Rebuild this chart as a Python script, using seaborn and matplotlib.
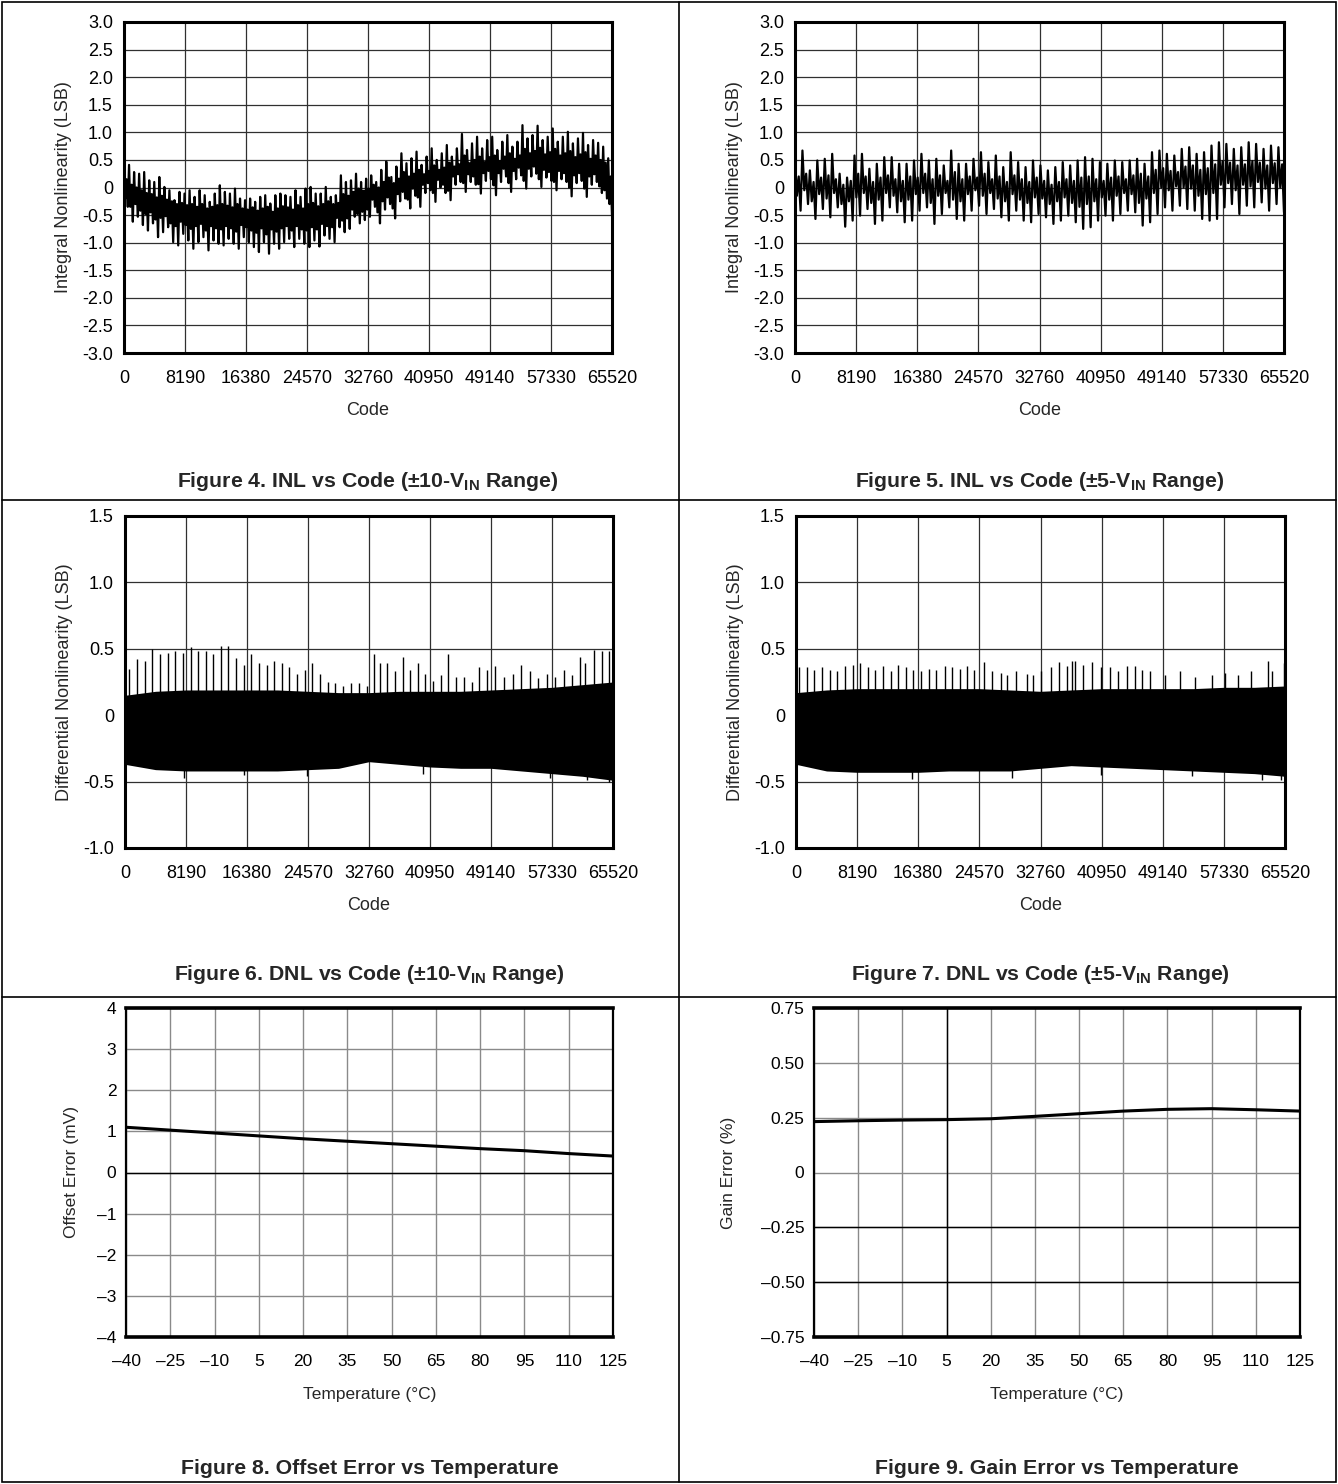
import matplotlib
matplotlib.use("Agg")
import matplotlib.pyplot as plt
from matplotlib.lines import Line2D
from matplotlib.patches import Rectangle
import seaborn as sns
import numpy as np

# ---------------- data ----------------
code_ticks = [0, 8190, 16380, 24570, 32760, 40950, 49140, 57330, 65520]
inl_yticks = [3.0, 2.5, 2.0, 1.5, 1.0, 0.5, 0, -0.5, -1.0, -1.5, -2.0, -2.5, -3.0]
inl_ylabels = ['3.0', '2.5', '2.0', '1.5', '1.0', '0.5', '0', '-0.5', '-1.0', '-1.5', '-2.0', '-2.5', '-3.0']
dnl_yticks = [1.5, 1.0, 0.5, 0, -0.5, -1.0]
dnl_ylabels = ['1.5', '1.0', '0.5', '0', '-0.5', '-1.0']

# Figure 4: INL (+-10 V range); per tooth: tip, core low, core high, valley
inl10_peaks = [0.56, 0.41, 0.28, 0.25, 0.28, 0.13, 0.10, 0.19, 0.01, -0.05,
               -0.23, -0.08, -0.11, -0.05, -0.17, -0.05, -0.14, -0.26, -0.11, 0.04,
               -0.08, -0.11, -0.02, -0.20, -0.23, -0.20, -0.26, -0.17, -0.14, -0.29,
               -0.14, -0.11, -0.14, -0.17, -0.05, -0.17, -0.02, 0.01, -0.11, -0.11,
               0.01, -0.17, -0.14, 0.22, 0.10, 0.13, 0.25, 0.10, 0.16, 0.22,
               0.10, 0.32, 0.47, 0.19, 0.38, 0.62, 0.44, 0.53, 0.65, 0.41,
               0.56, 0.71, 0.50, 0.62, 0.77, 0.56, 0.71, 0.97, 0.68, 0.80,
               0.92, 0.71, 0.86, 0.92, 0.68, 0.83, 0.95, 0.74, 0.83, 1.13,
               0.89, 0.95, 1.12, 0.86, 0.92, 1.07, 0.83, 0.92, 1.01, 0.80,
               0.89, 0.99, 0.77, 0.86, 0.81, 0.74, 0.53]
inl10_core_lo = [-0.20, -0.35, -0.30, -0.42, -0.48, -0.45, -0.58, -0.55, -0.52, -0.65,
                 -0.70, -0.62, -0.68, -0.75, -0.70, -0.66, -0.78, -0.70, -0.74, -0.76,
                 -0.70, -0.74, -0.80, -0.68, -0.72, -0.78, -0.82, -0.74, -0.85, -0.76,
                 -0.80, -0.74, -0.70, -0.78, -0.70, -0.76, -0.78, -0.72, -0.76, -0.66,
                 -0.70, -0.72, -0.55, -0.60, -0.56, -0.40, -0.48, -0.44, -0.40, -0.22,
                 -0.45, -0.25, -0.18, -0.38, -0.12, -0.08, -0.22, -0.02, -0.18, 0.05,
                 0.08, -0.10, 0.14, 0.05, -0.06, 0.20, 0.24, 0.08, 0.24, 0.20,
                 0.06, 0.26, 0.30, 0.04, 0.26, 0.34, 0.08, 0.30, 0.36, 0.12,
                 0.34, 0.38, 0.15, 0.32, 0.28, 0.10, 0.30, 0.26, 0.00, 0.22,
                 0.26, -0.02, 0.20, 0.24, 0.02, -0.05, -0.30]
inl10_core_hi = [0.15, 0.05, 0.00, -0.05, -0.10, -0.12, -0.18, -0.15, -0.22, -0.25,
                 -0.30, -0.28, -0.32, -0.30, -0.35, -0.30, -0.38, -0.35, -0.32, -0.30,
                 -0.33, -0.36, -0.30, -0.38, -0.40, -0.36, -0.42, -0.38, -0.35, -0.44,
                 -0.38, -0.34, -0.36, -0.40, -0.32, -0.38, -0.30, -0.28, -0.34, -0.30,
                 -0.25, -0.30, -0.28, -0.12, -0.15, -0.08, -0.02, -0.06, -0.02, 0.05,
                 0.00, 0.10, 0.18, 0.08, 0.16, 0.28, 0.20, 0.25, 0.32, 0.24,
                 0.30, 0.40, 0.32, 0.36, 0.45, 0.38, 0.42, 0.58, 0.44, 0.50,
                 0.56, 0.46, 0.55, 0.58, 0.48, 0.56, 0.62, 0.52, 0.58, 0.70,
                 0.62, 0.66, 0.72, 0.60, 0.64, 0.70, 0.58, 0.62, 0.66, 0.55,
                 0.60, 0.64, 0.52, 0.58, 0.50, 0.45, 0.20]
inl10_troughs = [-0.35, -0.62, -0.53, -0.68, -0.78, -0.65, -0.90, -0.81, -0.72, -0.99,
                 -1.05, -0.84, -0.96, -1.11, -0.99, -0.90, -1.14, -0.96, -1.02, -1.05,
                 -0.93, -1.02, -1.11, -0.90, -0.99, -1.08, -1.17, -0.99, -1.20, -1.02,
                 -1.11, -0.99, -0.93, -1.08, -0.93, -1.02, -1.08, -0.96, -1.07, -0.87,
                 -0.93, -0.99, -0.72, -0.81, -0.75, -0.53, -0.65, -0.59, -0.53, -0.35,
                 -0.65, -0.40, -0.30, -0.56, -0.25, -0.20, -0.38, -0.15, -0.35, -0.10,
                 -0.05, -0.26, 0.00, -0.10, -0.23, 0.05, 0.10, -0.08, 0.10, 0.05,
                 -0.11, 0.12, 0.15, -0.14, 0.10, 0.20, -0.08, 0.15, 0.22, -0.02,
                 0.20, 0.25, 0.01, 0.18, 0.12, -0.05, 0.15, 0.10, -0.16, 0.08,
                 0.12, -0.17, 0.05, 0.10, -0.10, -0.20, -0.50]

# Figure 5: INL (+-5 V range)
inl5_peaks = [0.55, 0.67, 0.31, 0.49, 0.52, 0.61, 0.25, 0.18, 0.58, 0.61,
              0.34, 0.43, 0.55, 0.55, 0.43, 0.43, 0.49, 0.61, 0.49, 0.52,
              0.40, 0.67, 0.43, 0.43, 0.52, 0.64, 0.46, 0.58, 0.37, 0.64,
              0.46, 0.37, 0.49, 0.40, 0.31, 0.37, 0.46, 0.40, 0.49, 0.55,
              0.52, 0.46, 0.43, 0.49, 0.46, 0.49, 0.52, 0.43, 0.64, 0.67,
              0.61, 0.58, 0.70, 0.73, 0.61, 0.64, 0.76, 0.82, 0.79, 0.70,
              0.73, 0.82, 0.79, 0.70, 0.76, 0.73]
inl5_core_lo = [-0.15, -0.05, -0.25, -0.12, -0.20, -0.10, -0.30, -0.25, -0.18, -0.10,
                -0.28, -0.22, -0.10, -0.15, -0.25, -0.22, -0.12, -0.10, -0.28, -0.15,
                -0.10, -0.22, -0.25, -0.12, -0.05, -0.15, -0.10, -0.20, -0.25, -0.12,
                -0.22, -0.28, -0.18, -0.20, -0.30, -0.25, -0.18, -0.28, -0.35, -0.30,
                -0.25, -0.18, -0.22, -0.15, -0.10, -0.12, -0.28, -0.20, -0.10, 0.00,
                -0.05, 0.02, 0.00, -0.02, -0.15, -0.12, -0.10, 0.05, 0.08, -0.05,
                0.05, 0.02, 0.10, -0.02, 0.08, 0.00]
inl5_core_hi = [0.20, 0.25, 0.10, 0.18, 0.22, 0.15, 0.05, 0.12, 0.25, 0.20,
                0.10, 0.18, 0.22, 0.15, 0.12, 0.20, 0.18, 0.25, 0.15, 0.22,
                0.12, 0.28, 0.15, 0.20, 0.18, 0.25, 0.15, 0.20, 0.10, 0.22,
                0.15, 0.10, 0.18, 0.12, 0.05, 0.10, 0.15, 0.12, 0.18, 0.20,
                0.15, 0.12, 0.18, 0.20, 0.15, 0.22, 0.25, 0.20, 0.32, 0.35,
                0.30, 0.28, 0.38, 0.40, 0.32, 0.35, 0.42, 0.48, 0.45, 0.40,
                0.42, 0.48, 0.45, 0.40, 0.44, 0.42]
inl5_troughs = [-0.42, -0.30, -0.57, -0.39, -0.54, -0.36, -0.71, -0.60, -0.51, -0.39,
                -0.66, -0.60, -0.36, -0.45, -0.63, -0.60, -0.42, -0.36, -0.66, -0.48,
                -0.36, -0.57, -0.60, -0.42, -0.33, -0.48, -0.39, -0.54, -0.60, -0.42,
                -0.60, -0.63, -0.48, -0.54, -0.66, -0.60, -0.51, -0.63, -0.75, -0.72,
                -0.60, -0.51, -0.60, -0.48, -0.42, -0.45, -0.69, -0.63, -0.48, -0.36,
                -0.42, -0.33, -0.39, -0.42, -0.57, -0.60, -0.57, -0.36, -0.30, -0.48,
                -0.33, -0.36, -0.27, -0.42, -0.30, -0.45]

# Figures 6/7: DNL band envelope (every 4095 codes) and isolated spikes
dnl10_upper = [0.15, 0.18, 0.19, 0.19, 0.19, 0.19, 0.18, 0.17, 0.17, 0.18, 0.18, 0.18, 0.19, 0.20, 0.21, 0.23, 0.25]
dnl10_lower = [-0.37, -0.41, -0.42, -0.42, -0.42, -0.42, -0.41, -0.40, -0.35, -0.37, -0.39, -0.40, -0.40, -0.42, -0.44, -0.46, -0.49]
dnl10_spike_codes = [573, 1604, 2636, 3610, 4641, 5730, 6761, 7793, 8824, 9798, 10830, 11861, 12893, 13867,
                     14898, 15929, 16961, 17992, 19024, 19998, 21029, 22061, 23092, 24123, 25155, 26186,
                     27218, 28249, 29280, 30312, 31400, 32432, 33463, 34265, 35240, 36271, 37302, 38276,
                     39308, 40339, 41371, 42402, 43433, 44465, 45496, 46528, 47559, 48590, 49736, 50882,
                     52028, 53232, 54320, 55466, 56612, 57758, 58904, 60050, 61025, 61769, 62915, 64061, 65036]
dnl10_spike_vals = [0.35, 0.42, 0.41, 0.50, 0.46, 0.47, 0.48, 0.47, 0.51, 0.48, 0.48, 0.46, 0.52, 0.52,
                    0.43, 0.38, 0.46, 0.39, 0.38, 0.41, 0.39, 0.36, 0.31, 0.34, 0.39, 0.31,
                    0.25, 0.24, 0.22, 0.24, 0.24, 0.22, 0.46, 0.39, 0.39, 0.33, 0.44, 0.34,
                    0.39, 0.31, 0.26, 0.30, 0.46, 0.29, 0.29, 0.25, 0.36, 0.34, 0.37, 0.29,
                    0.31, 0.38, 0.33, 0.28, 0.31, 0.29, 0.34, 0.30, 0.44, 0.39, 0.49, 0.48, 0.48]
dnl10_dip_codes = [7900, 16000, 24400, 40000, 57000, 62000, 65000]
dnl10_dip_vals = [-0.47, -0.45, -0.46, -0.44, -0.47, -0.49, -0.50]

dnl5_upper = [0.17, 0.19, 0.20, 0.20, 0.20, 0.20, 0.20, 0.19, 0.18, 0.19, 0.20, 0.20, 0.20, 0.20, 0.21, 0.21, 0.22]
dnl5_lower = [-0.37, -0.42, -0.43, -0.43, -0.43, -0.42, -0.42, -0.42, -0.40, -0.38, -0.39, -0.40, -0.41, -0.42, -0.43, -0.44, -0.46]
dnl5_spike_codes = [400, 1430, 2460, 3432, 4576, 5548, 6578, 7608, 8637, 9610, 10582, 11669, 12698, 13671,
                    14700, 15730, 16760, 17789, 18762, 19906, 20935, 21965, 22880, 23910, 25225, 26312,
                    27456, 28314, 29458, 30888, 31746, 32890, 34206, 35292, 36322, 37008, 37352, 38496,
                    39640, 40898, 42042, 43186, 44330, 45474, 46332, 47476, 49478, 51480, 53482, 55770,
                    57486, 59202, 60918, 63206, 63778, 65322]
dnl5_spike_vals = [0.36, 0.36, 0.34, 0.36, 0.34, 0.33, 0.37, 0.38, 0.39, 0.36, 0.34, 0.37, 0.33, 0.38,
                   0.36, 0.34, 0.33, 0.35, 0.34, 0.37, 0.36, 0.35, 0.37, 0.34, 0.40, 0.33,
                   0.32, 0.30, 0.33, 0.31, 0.30, 0.33, 0.36, 0.40, 0.37, 0.41, 0.41, 0.38,
                   0.40, 0.36, 0.36, 0.33, 0.37, 0.37, 0.34, 0.33, 0.30, 0.33, 0.29, 0.30,
                   0.32, 0.30, 0.33, 0.41, 0.33, 0.39]
dnl5_dip_codes = [15500, 29000, 40900, 53000, 62500, 65000]
dnl5_dip_vals = [-0.48, -0.47, -0.45, -0.46, -0.49, -0.49]

# Figures 8/9: error vs temperature
temps = [-40, -25, -10, 5, 20, 35, 50, 65, 80, 95, 110, 125]
temp_labels = ['\u201340', '\u201325', '\u201310', '5', '20', '35', '50', '65', '80', '95', '110', '125']
offset_mv = [1.10, 1.03, 0.96, 0.89, 0.82, 0.76, 0.70, 0.64, 0.58, 0.53, 0.46, 0.40]
gain_pct = [0.232, 0.236, 0.239, 0.241, 0.245, 0.256, 0.268, 0.280, 0.288, 0.291, 0.286, 0.280]
off_yticks = [4, 3, 2, 1, 0, -1, -2, -3, -4]
off_ylabels = ['4', '3', '2', '1', '0', '\u20131', '\u20132', '\u20133', '\u20134']
gain_yticks = [0.75, 0.5, 0.25, 0, -0.25, -0.5, -0.75]
gain_ylabels = ['0.75', '0.50', '0.25', '0', '\u20130.25', '\u20130.50', '\u20130.75']

captions = [r'Figure 4. INL vs Code (±10-V$_\mathregular{IN}$ Range)',
            r'Figure 5. INL vs Code (±5-V$_\mathregular{IN}$ Range)',
            r'Figure 6. DNL vs Code (±10-V$_\mathregular{IN}$ Range)',
            r'Figure 7. DNL vs Code (±5-V$_\mathregular{IN}$ Range)',
            'Figure 8. Offset Error vs Temperature',
            'Figure 9. Gain Error vs Temperature']

# ---------------- style ----------------
sns.set_style("white")
plt.rcParams['font.family'] = ['Liberation Sans', 'DejaVu Sans']
plt.rcParams['mathtext.fontset'] = 'custom'
plt.rcParams['mathtext.rm'] = 'Liberation Sans:bold'
plt.rcParams['mathtext.default'] = 'regular'

W, H = 1338, 1484
fig = plt.figure(figsize=(W / 100, H / 100), dpi=100)
fig.patch.set_facecolor('white')


def add_ax(l, t, r, b):
    return fig.add_axes([l / W, 1 - b / H, (r - l) / W, (b - t) / H])


def zigzag(*parts):
    vals = np.column_stack(parts).ravel()
    x = np.linspace(0, 65520, len(vals))
    return x, vals


def style_code_axes(ax, yticks, ylabels, ylim, ylabel):
    ax.set_xlim(0, 65520)
    ax.set_ylim(*ylim)
    ax.set_xticks(code_ticks)
    ax.set_xticklabels([str(c) for c in code_ticks])
    ax.set_yticks(yticks)
    ax.set_yticklabels(ylabels)
    ax.grid(True, color='#303030', lw=0.9)
    ax.set_axisbelow(True)
    ax.tick_params(length=0, labelsize=13, colors='black')
    ax.tick_params(axis='x', pad=12)
    ax.tick_params(axis='y', pad=8)
    for s in ax.spines.values():
        s.set_linewidth(2.2)
        s.set_color('black')
        s.set_zorder(5)
    ax.set_xlabel('Code', fontsize=13, labelpad=11)
    ax.set_ylabel(ylabel, fontsize=13, labelpad=7)


def style_temp_axes(ax, yticks, ylabels, ylim, ylabel, ylpad):
    ax.set_xlim(-40, 125)
    ax.set_ylim(*ylim)
    ax.set_xticks(temps)
    ax.set_xticklabels(temp_labels)
    ax.set_yticks(yticks)
    ax.set_yticklabels(ylabels)
    ax.grid(True, color='#8a8a8a', lw=1.0)
    ax.set_axisbelow(True)
    ax.tick_params(length=0, labelsize=12.5, colors='black')
    ax.tick_params(axis='x', pad=12)
    ax.tick_params(axis='y', pad=7)
    for side, s in ax.spines.items():
        s.set_color('black')
        s.set_linewidth(2.6 if side in ('top', 'bottom') else 1.6)
        s.set_zorder(5)
    ax.set_xlabel('Temperature (°C)', fontsize=12.5, labelpad=13)
    ax.set_ylabel(ylabel, fontsize=12.5, labelpad=ylpad)


# ---------------- Figure 4 ----------------
ax4 = add_ax(124, 22, 612, 353)
x, y = zigzag(inl10_peaks, inl10_core_lo, inl10_core_hi, inl10_troughs)
sns.lineplot(x=x, y=y, ax=ax4, color='black', lw=1.6, sort=False, estimator=None)
style_code_axes(ax4, inl_yticks, inl_ylabels, (-3, 3), 'Integral Nonlinearity (LSB)')

# ---------------- Figure 5 ----------------
ax5 = add_ax(795, 22, 1284, 353)
x, y = zigzag(inl5_peaks, inl5_core_lo, inl5_core_hi, inl5_troughs)
sns.lineplot(x=x, y=y, ax=ax5, color='black', lw=1.6, sort=False, estimator=None)
style_code_axes(ax5, inl_yticks, inl_ylabels, (-3, 3), 'Integral Nonlinearity (LSB)')

# ---------------- Figures 6 / 7 ----------------
env_codes = np.linspace(0, 65520, len(dnl10_upper))
ax6 = add_ax(125, 516, 613, 848)
ax6.fill_between(env_codes, dnl10_lower, dnl10_upper, color='black', lw=0)
ax6.vlines(dnl10_spike_codes, 0, dnl10_spike_vals, color='black', lw=1)
ax6.vlines(dnl10_dip_codes, dnl10_dip_vals, 0, color='black', lw=1)
style_code_axes(ax6, dnl_yticks, dnl_ylabels, (-1, 1.5), 'Differential Nonlinearity (LSB)')

ax7 = add_ax(796, 516, 1285, 848)
ax7.fill_between(env_codes, dnl5_lower, dnl5_upper, color='black', lw=0)
ax7.vlines(dnl5_spike_codes, 0, dnl5_spike_vals, color='black', lw=1)
ax7.vlines(dnl5_dip_codes, dnl5_dip_vals, 0, color='black', lw=1)
style_code_axes(ax7, dnl_yticks, dnl_ylabels, (-1, 1.5), 'Differential Nonlinearity (LSB)')

# ---------------- Figures 8 / 9 ----------------
ax8 = add_ax(126, 1008, 613, 1337)
sns.lineplot(x=temps, y=offset_mv, ax=ax8, color='black', lw=2.2)
style_temp_axes(ax8, off_yticks, off_ylabels, (-4, 4), 'Offset Error (mV)', 13)
ax8.axhline(0, color='black', lw=1.0, zorder=1)

ax9 = add_ax(814, 1008, 1300, 1337)
sns.lineplot(x=temps, y=gain_pct, ax=ax9, color='black', lw=2.2)
style_temp_axes(ax9, gain_yticks, gain_ylabels, (-0.75, 0.75), 'Gain Error (%)', 18)
ax9.axvline(5, color='black', lw=1.0, zorder=1)
for yy in (-0.25, -0.5):
    ax9.axhline(yy, color='black', lw=1.0, zorder=1)

# ---------------- captions ----------------
cap_pos = [(368, 482), (1040, 482), (369, 975), (1040, 975), (370, 1469), (1057, 1469)]
for (cx, cy), cap in zip(cap_pos, captions):
    fig.text(cx / W, 1 - cy / H, cap, ha='center', va='center', fontsize=15.3, fontweight='bold')

# ---------------- cell frame ----------------
fig.add_artist(Rectangle((2 / W, 2 / H), 1334 / W, 1480 / H, fill=False, lw=1.2,
                         edgecolor='black', transform=fig.transFigure))
fig.add_artist(Line2D([679 / W, 679 / W], [2 / H, 1 - 2 / H], color='black', lw=1.2))
for yy in (500, 997):
    fig.add_artist(Line2D([2 / W, 1 - 2 / W], [1 - yy / H, 1 - yy / H], color='black', lw=1.2))

plt.savefig('out.png', dpi=100)
plt.close()
